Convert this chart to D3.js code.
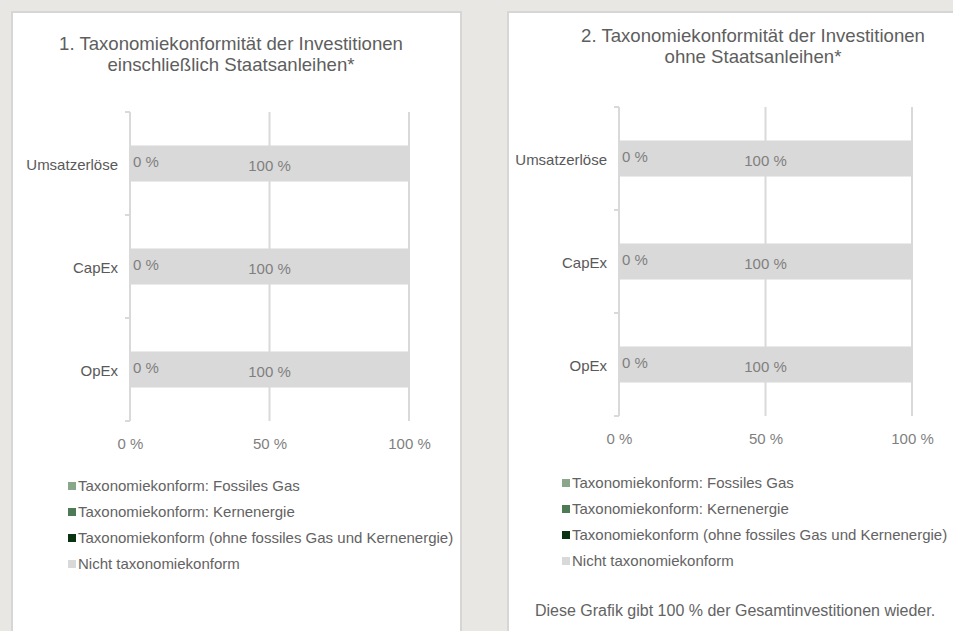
<!DOCTYPE html>
<html>
<head>
<meta charset="utf-8">
<script src="https://cdn.jsdelivr.net/npm/d3@7"></script>
<style>
  html, body { margin: 0; padding: 0; background: #e9e7e3; }
  svg { display: block; font-family: "Liberation Sans", Arial, sans-serif; }
</style>
</head>
<body>
<div id="chart"></div>
<script>
// categories and series (values in %)
const categories = ['Umsatzerlöse', 'CapEx', 'OpEx'];
const seriesNames = [
    'Taxonomiekonform: Fossiles Gas',
    'Taxonomiekonform: Kernenergie',
    'Taxonomiekonform (ohne fossiles Gas und Kernenergie)',
    'Nicht taxonomiekonform'
];
const seriesColors = ['#8aa68b', '#4e7a55', '#0b3311', '#d9d9d9'];

const chart1Gas = [0, 0, 0];
const chart1Nuclear = [0, 0, 0];
const chart1Aligned = [0, 0, 0];
const chart1NotAligned = [100, 100, 100];

const chart2Gas = [0, 0, 0];
const chart2Nuclear = [0, 0, 0];
const chart2Aligned = [0, 0, 0];
const chart2NotAligned = [100, 100, 100];

const xTicks = [0, 50, 100];
const title1 = ['1. Taxonomiekonformität der Investitionen', 'einschließlich Staatsanleihen*'];
const title2 = ['2. Taxonomiekonformität der Investitionen', 'ohne Staatsanleihen*'];
const footnote2 = 'Diese Grafik gibt 100 % der Gesamtinvestitionen wieder.';

const W = 953, H = 631;
const svg = d3.select('#chart').append('svg')
    .attr('width', W)
    .attr('height', H);

function buildRows(gas, nuclear, aligned, notAligned) {
    return categories.map((c, i) => ({
        cat: c,
        gas: gas[i],
        nuclear: nuclear[i],
        aligned: aligned[i],
        notAligned: notAligned[i]
    }));
}

const keys = ['gas', 'nuclear', 'aligned', 'notAligned'];

function drawPanel(cfg) {
    const g = svg.append('g');

    // card
    g.append('rect')
        .attr('x', cfg.panel[0]).attr('y', cfg.panel[1])
        .attr('width', cfg.panel[2]).attr('height', cfg.panel[3])
        .attr('fill', '#fff')
        .attr('stroke', '#d6d6d4')
        .attr('stroke-width', 2);

    // title
    const t = g.append('text')
        .attr('text-anchor', 'middle')
        .attr('fill', '#5e5e5e')
        .style('font-size', '18.6px');
    cfg.title.forEach((line, i) => {
        t.append('tspan')
            .attr('x', cfg.titleX)
            .attr('y', cfg.titleY + i * 21)
            .text(line);
    });

    const x = d3.scaleLinear().domain([0, 100]).range([cfg.x0, cfg.x1]);
    const y = d3.scaleBand().domain(categories).range([cfg.yTop, cfg.yBottom]).paddingInner(0.65).paddingOuter(0.325);

    // grid lines
    g.append('g').selectAll('line')
        .data(xTicks)
        .join('line')
        .attr('x1', d => x(d)).attr('x2', d => x(d))
        .attr('y1', cfg.yTop).attr('y2', cfg.yBottom)
        .attr('stroke', '#d9d9d9')
        .attr('stroke-width', 2);

    // category boundary ticks
    const step = y.step();
    const bounds = d3.range(categories.length + 1).map(i => cfg.yTop + i * step);
    g.append('g').selectAll('line')
        .data(bounds)
        .join('line')
        .attr('x1', x(0) - 5).attr('x2', x(0))
        .attr('y1', d => d).attr('y2', d => d)
        .attr('stroke', '#d9d9d9')
        .attr('stroke-width', 2);

    // stacked bars
    const rows = buildRows(...cfg.values);
    const stacked = d3.stack().keys(keys)(rows);
    g.append('g').selectAll('g')
        .data(stacked)
        .join('g')
        .attr('fill', (d, i) => seriesColors[i])
        .selectAll('rect')
        .data(d => d)
        .join('rect')
        .attr('x', d => x(d[0]))
        .attr('width', d => x(d[1]) - x(d[0]))
        .attr('y', d => y(d.data.cat))
        .attr('height', y.bandwidth());

    // data labels: aligned share at the base, not-aligned share centred
    g.append('g').selectAll('text')
        .data(stacked[2])
        .join('text')
        .attr('x', d => x(d[0]) + 3)
        .attr('y', d => y(d.data.cat) + y.bandwidth() / 2 - 2)
        .attr('dy', '0.35em')
        .attr('fill', '#7f7f7f')
        .style('font-size', '15px')
        .text(d => (d[1] - d[0]) + ' %');

    g.append('g').selectAll('text')
        .data(stacked[3])
        .join('text')
        .attr('x', d => x((d[0] + d[1]) / 2))
        .attr('y', d => y(d.data.cat) + y.bandwidth() / 2 + 2)
        .attr('dy', '0.35em')
        .attr('text-anchor', 'middle')
        .attr('fill', '#7f7f7f')
        .style('font-size', '15px')
        .text(d => (d[1] - d[0]) + ' %');

    // category axis
    const yAxis = g.append('g')
        .attr('transform', `translate(${x(0) - 12},0)`)
        .call(d3.axisLeft(y).tickSize(0).tickPadding(0));
    yAxis.select('.domain').remove();
    yAxis.selectAll('text')
        .attr('fill', '#595959')
        .style('font-size', '15px')
        .attr('dy', '0.45em')
        .style('font-family', '"Liberation Sans", Arial, sans-serif');

    // value axis
    const xAxis = g.append('g')
        .attr('transform', `translate(0,${cfg.yBottom + 17})`)
        .call(d3.axisBottom(x).tickValues(xTicks).tickFormat(d => d + ' %').tickSize(0).tickPadding(0));
    xAxis.select('.domain').remove();
    xAxis.selectAll('text')
        .attr('fill', '#7f7f7f')
        .style('font-size', '15px')
        .style('font-family', '"Liberation Sans", Arial, sans-serif');

    // legend
    const leg = g.append('g')
        .attr('transform', `translate(${cfg.legendX},${cfg.legendY})`);
    const item = leg.selectAll('g')
        .data(seriesNames)
        .join('g')
        .attr('transform', (d, i) => `translate(0,${i * 26})`);
    item.append('rect')
        .attr('x', 0).attr('y', -4)
        .attr('width', 8).attr('height', 8)
        .attr('fill', (d, i) => seriesColors[i]);
    item.append('text')
        .attr('x', 10)
        .attr('dy', '0.35em')
        .attr('fill', '#636363')
        .style('font-size', '15px')
        .text(d => d);

    if (cfg.footnote) {
        g.append('text')
            .attr('x', cfg.footX).attr('y', cfg.footY)
            .attr('dy', '0.35em')
            .attr('text-anchor', 'middle')
            .attr('fill', '#636363')
            .style('font-size', '16px')
            .text(cfg.footnote);
    }
}

drawPanel({
    panel: [12, 12, 449, 640],
    title: title1,
    titleX: 231, titleY: 50,
    x0: 130, x1: 409, yTop: 112, yBottom: 421,
    values: [chart1Gas, chart1Nuclear, chart1Aligned, chart1NotAligned],
    legendX: 68, legendY: 486
});

drawPanel({
    panel: [508, 12, 460, 640],
    title: title2,
    titleX: 753, titleY: 42,
    x0: 619, x1: 912, yTop: 107, yBottom: 416,
    values: [chart2Gas, chart2Nuclear, chart2Aligned, chart2NotAligned],
    legendX: 562, legendY: 483,
    footnote: footnote2,
    footX: 735, footY: 610
});
</script>
</body>
</html>
